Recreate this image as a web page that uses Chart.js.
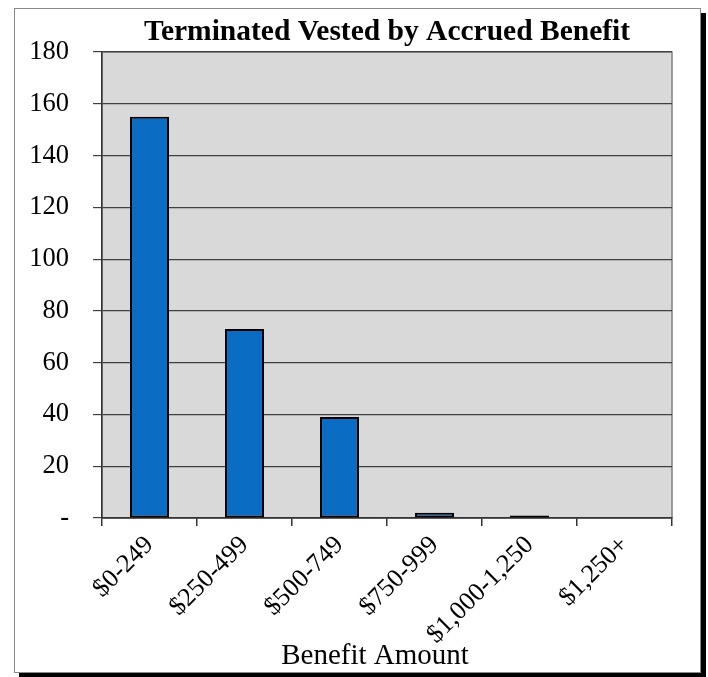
<!DOCTYPE html>
<html>
<head>
<meta charset="utf-8">
<script src="https://cdn.jsdelivr.net/npm/chart.js@4"></script>
<style>
    html, body { margin: 0; padding: 0; background: #fff; }
    #marco {
        position: absolute; left: 14px; top: 8px;
        width: 685px; height: 663px;
        border: 1px solid #8a8a8a;
        box-shadow: 5px 5px 0 #000;
        background: #fff;
    }
    #grafico { position: absolute; left: 0; top: 0; }
</style>
</head>
<body>
<div id="marco"></div>
<canvas id="grafico" width="708" height="677"></canvas>
<script>
// Rangos de beneficio y cantidad de participantes
const rangos = ['$0-249', '$250-499', '$500-749', '$750-999', '$1,000-1,250', '$1,250+'];
const participantes = [155, 73, 39, 2, 1, 0];
const marcasY = [0, 20, 40, 60, 80, 100, 120, 140, 160, 180];
const tituloEjeX = 'Benefit Amount';

const fuente = '"Liberation Serif", "Times New Roman", serif';

// Fondo gris y borde del área de trazado
const fondoArea = {
    id: 'fondoArea',
    beforeDraw(chart) {
        const { ctx, chartArea: a } = chart;
        ctx.save();
        ctx.fillStyle = '#d9d9d9';
        ctx.fillRect(a.left, a.top, a.right - a.left, a.bottom - a.top);
        ctx.strokeStyle = '#808080';
        ctx.lineWidth = 1.5;
        ctx.strokeRect(a.left, a.top, a.right - a.left, a.bottom - a.top);
        ctx.restore();
    }
};

// Título del eje X, algo corrido a la izquierda del centro
const tituloX = {
    id: 'tituloX',
    afterDraw(chart) {
        const { ctx, chartArea: a } = chart;
        ctx.save();
        ctx.fillStyle = '#000';
        ctx.font = '29px ' + fuente;
        ctx.textAlign = 'center';
        ctx.textBaseline = 'alphabetic';
        ctx.fillText(tituloEjeX, (a.left + a.right) / 2 - 12, chart.height - 13);
        ctx.restore();
    }
};

document.addEventListener('DOMContentLoaded', function() {
    const ctx = document.getElementById('grafico').getContext('2d');
    new Chart(ctx, {
        type: 'bar',
        data: {
            labels: rangos,
            datasets: [{
                label: 'Participantes',
                data: participantes,
                backgroundColor: '#0a6cc2',
                borderColor: '#000',
                borderWidth: 2,
                borderSkipped: false,
                categoryPercentage: 1,
                barPercentage: 0.41
            }]
        },
        options: {
            responsive: false,
            animation: false,
            layout: { padding: { left: 0, right: 36, top: 0, bottom: 0 } },
            plugins: {
                legend: { display: false },
                tooltip: { enabled: false },
                title: {
                    display: true,
                    fullSize: false,
                    text: 'Terminated Vested by Accrued Benefit',
                    color: '#000',
                    font: { family: fuente, size: 29.5, weight: 'bold' },
                    padding: { top: 15, bottom: 1.6 }
                }
            },
            scales: {
                x: {
                    grid: {
                        offset: true,
                        drawOnChartArea: false,
                        drawTicks: true,
                        tickLength: 8,
                        color: '#333',
                        lineWidth: 1.5
                    },
                    border: { display: true, color: '#333', width: 1.5 },
                    ticks: {
                        autoSkip: false,
                        minRotation: 45,
                        maxRotation: 45,
                        padding: 4,
                        color: '#000',
                        font: { family: fuente, size: 26 }
                    },
                    afterFit(scale) { scale.height = 159; }
                },
                y: {
                    min: 0,
                    max: 180,
                    afterBuildTicks(scale) {
                        scale.ticks = marcasY.map(v => ({ value: v }));
                    },
                    grid: {
                        color: '#404040',
                        lineWidth: 1.2,
                        drawTicks: true,
                        tickLength: 9
                    },
                    border: { display: true, color: '#333', width: 1.5 },
                    ticks: {
                        padding: 24,
                        color: '#000',
                        font: { family: fuente, size: 26.5 },
                        callback: v => v === 0 ? '-' : v
                    },
                    afterFit(scale) { scale.width = 102; }
                }
            }
        },
        plugins: [fondoArea, tituloX]
    });
});
</script>
</body>
</html>
